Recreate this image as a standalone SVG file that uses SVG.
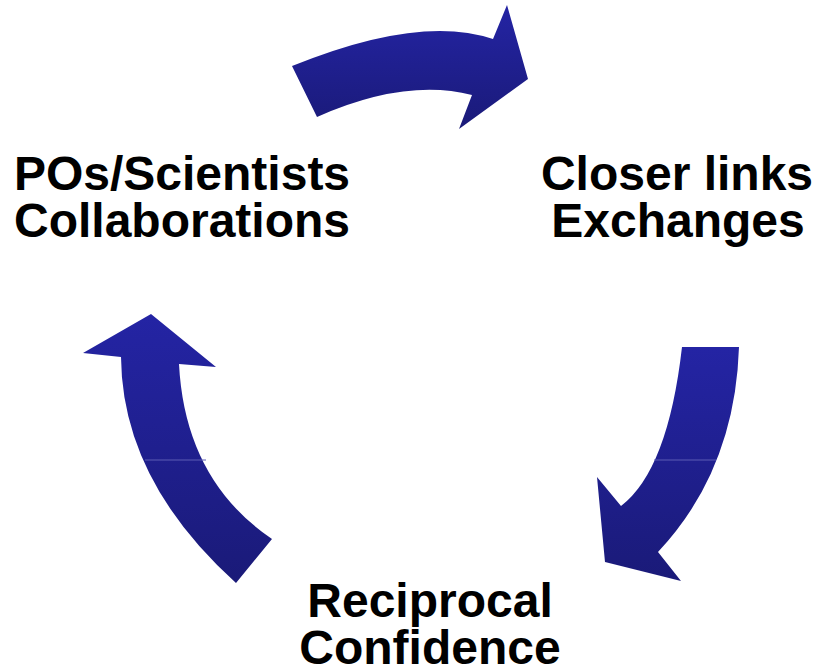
<svg xmlns="http://www.w3.org/2000/svg" width="816" height="672" viewBox="0 0 816 672">
  <defs>
    <linearGradient id="blue" x1="0" y1="0" x2="0" y2="1">
      <stop offset="0" stop-color="#2424A4"/>
      <stop offset="1" stop-color="#1A1A78"/>
    </linearGradient>
  </defs>
  <style>
    .arrow { fill: url(#blue); stroke: none; }
    .seam { stroke: #5C5CB4; stroke-width: 1; }
    .label { font-family: "Liberation Sans", Arial, sans-serif; font-weight: bold; font-size: 48px; fill: #000; text-anchor: middle; }
  </style>
  <rect width="816" height="672" fill="#fff"/>
  <g id="connectors">
    <g id="arrow-top">
      <path class="arrow" d="M292,66 Q420,14 493,39 L507,5 L528,79 L459,129 L472,95 Q405,78 317,117 Z"/>
    </g>
    <g id="arrow-right">
      <path class="arrow" d="M682,347 L739,347 Q735,470 658,552 L681,581 L605,562 L597,477 L621,506 Q668,470 682,347 Z"/>
      <line class="seam" x1="654" y1="460" x2="716" y2="460"/>
    </g>
    <g id="arrow-left">
      <path class="arrow" d="M151,314 L83,353 L121,357 Q122,480 236,583 L272,539 Q185,480 179,364 L216,367 Z"/>
      <line class="seam" x1="145" y1="460" x2="206" y2="460"/>
    </g>
  </g>
  <g id="node-pos">
    <text class="label" x="182" y="190">POs/Scientists</text>
    <text class="label" x="182" y="237">Collaborations</text>
  </g>
  <g id="node-closer">
    <text class="label" x="677" y="190">Closer links</text>
    <text class="label" x="678" y="237">Exchanges</text>
  </g>
  <g id="node-reciprocal">
    <text class="label" x="430" y="617">Reciprocal</text>
    <text class="label" x="430" y="664">Confidence</text>
  </g>
</svg>
